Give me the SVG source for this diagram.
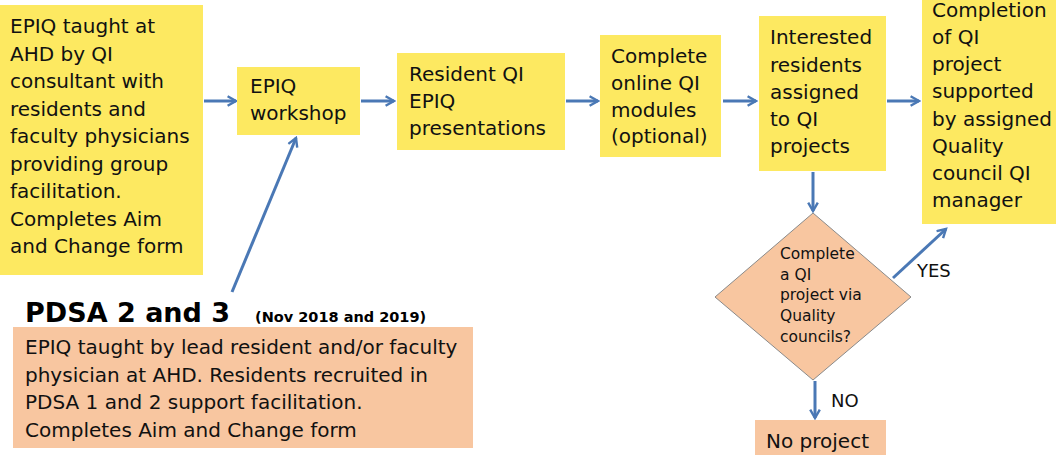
<svg xmlns="http://www.w3.org/2000/svg" width="1056" height="455" viewBox="0 0 1056 455">
<style>
.y{fill:#FDE961;}
.o{fill:#F8C6A0;}
.t{font-family:"DejaVu Sans","Liberation Sans",Arial,sans-serif;font-size:20px;fill:#111;}
.s{font-family:"DejaVu Sans","Liberation Sans",Arial,sans-serif;font-size:15.5px;fill:#111;}
.b{font-family:"DejaVu Sans","Liberation Sans",Arial,sans-serif;font-weight:bold;fill:#000;}
.c{stroke:#4A78B5;stroke-width:3;fill:none;marker-end:url(#a);}
</style>
<defs>
<marker id="a" viewBox="0 0 10 10" refX="8" refY="5" markerWidth="4" markerHeight="4" orient="auto" markerUnits="strokeWidth">
<path d="M1,1 L8,5 L1,9" fill="none" stroke="#4A78B5" stroke-width="2" stroke-linejoin="miter"/>
</marker>
</defs>
<rect width="1056" height="455" fill="#fff"/>
<g id="connectors">
<line class="c" x1="204" y1="101" x2="236" y2="101"/>
<line class="c" x1="361" y1="101" x2="394" y2="101"/>
<line class="c" x1="566" y1="101" x2="598" y2="101"/>
<line class="c" x1="723" y1="101" x2="756" y2="101"/>
<line class="c" x1="887" y1="101" x2="919" y2="101"/>
<line class="c" x1="232" y1="292" x2="296" y2="138"/>
<line class="c" x1="813" y1="172" x2="813" y2="211"/>
<line class="c" x1="893" y1="278" x2="946" y2="229"/>
<line class="c" x1="815" y1="381" x2="815" y2="418"/>
</g>
<g id="n1">
<rect class="y" x="0" y="5" width="203" height="270"/>
<text class="t" x="10" y="33">EPIQ taught at</text>
<text class="t" x="10" y="60.5">AHD by QI</text>
<text class="t" x="10" y="88">consultant with</text>
<text class="t" x="10" y="115.5">residents and</text>
<text class="t" x="10" y="143">faculty physicians</text>
<text class="t" x="10" y="170.5">providing group</text>
<text class="t" x="10" y="198">facilitation.</text>
<text class="t" x="10" y="225.5">Completes Aim</text>
<text class="t" x="10" y="253">and Change form</text>
</g>
<g id="n2">
<rect class="y" x="237" y="67" width="123" height="68"/>
<text class="t" x="250" y="93">EPIQ</text>
<text class="t" x="250" y="120">workshop</text>
</g>
<g id="n3">
<rect class="y" x="397" y="53" width="168" height="97"/>
<text class="t" x="409" y="81">Resident QI</text>
<text class="t" x="409" y="108">EPIQ</text>
<text class="t" x="409" y="135">presentations</text>
</g>
<g id="n4">
<rect class="y" x="600" y="35" width="121" height="122"/>
<text class="t" x="611" y="63">Complete</text>
<text class="t" x="611" y="89.5">online QI</text>
<text class="t" x="611" y="116.5">modules</text>
<text class="t" x="611" y="143">(optional)</text>
</g>
<g id="n5">
<rect class="y" x="759" y="16" width="127" height="155"/>
<text class="t" x="770" y="44">Interested</text>
<text class="t" x="770" y="71.5">residents</text>
<text class="t" x="770" y="99">assigned</text>
<text class="t" x="770" y="126">to QI</text>
<text class="t" x="770" y="153">projects</text>
</g>
<g id="n6">
<rect class="y" x="922" y="0" width="134" height="224"/>
<text class="t" x="932" y="17">Completion</text>
<text class="t" x="932" y="44">of QI</text>
<text class="t" x="932" y="71">project</text>
<text class="t" x="932" y="98">supported</text>
<text class="t" x="932" y="125.5">by assigned</text>
<text class="t" x="932" y="153">Quality</text>
<text class="t" x="932" y="180">council QI</text>
<text class="t" x="932" y="207">manager</text>
</g>
<g id="n7">
<polygon class="o" points="813,213 911,297 813,380 715,297" stroke="#8A8A8A" stroke-width="1"/>
<text class="s" x="780" y="259">Complete</text>
<text class="s" x="780" y="279.5">a QI</text>
<text class="s" x="780" y="300">project via</text>
<text class="s" x="780" y="321">Quality</text>
<text class="s" x="780" y="342">councils?</text>
</g>
<g id="labels">
<text class="t" x="917" y="277" style="font-size:18px">YES</text>
<text class="t" x="831" y="407" style="font-size:18px">NO</text>
</g>
<g id="n8">
<rect class="o" x="755" y="420" width="131" height="35"/>
<text class="t" x="766" y="448">No project</text>
</g>
<g id="n9">
<text class="b" x="25" y="322" style="font-size:27px">PDSA 2 and 3</text>
<text class="b" x="255" y="322" style="font-size:14.5px">(Nov 2018 and 2019)</text>
<rect class="o" x="13" y="327" width="460" height="121"/>
<text class="t" x="25" y="354">EPIQ taught by lead resident and/or faculty</text>
<text class="t" x="25" y="381.5">physician at AHD. Residents recruited in</text>
<text class="t" x="25" y="409">PDSA 1 and 2 support facilitation.</text>
<text class="t" x="25" y="436.5">Completes Aim and Change form</text>
</g>
</svg>
